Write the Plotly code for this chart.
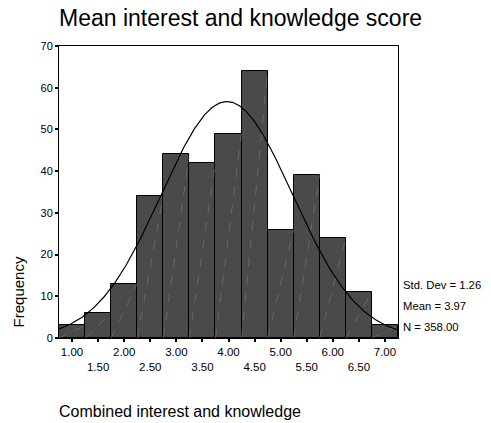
import numpy as np
import plotly.graph_objects as go

# Data
bin_centers = [1.00, 1.50, 2.00, 2.50, 3.00, 3.50, 4.00, 4.50, 5.00, 5.50, 6.00, 6.50, 7.00]
frequencies = [3, 6, 13, 34, 44, 42, 49, 64, 26, 39, 24, 11, 3]
bin_width = 0.5
std_dev = 1.26
mean_val = 3.97
n_total = 358
y_ticks = [0, 10, 20, 30, 40, 50, 60, 70]
x_tick_labels = ["1.00", "1.50", "2.00", "2.50", "3.00", "3.50", "4.00",
                 "4.50", "5.00", "5.50", "6.00", "6.50", "7.00"]

FONT = "Arial, Liberation Sans, sans-serif"

fig = go.Figure()

fig.add_trace(go.Bar(
    x=bin_centers, y=frequencies, width=bin_width,
    marker=dict(color="#4a4a4a", line=dict(color="#000000", width=1)),
    hoverinfo="skip", showlegend=False,
))

# faint diagonal rendering lines inside each bar
dx, dy = [], []
for c, f in zip(bin_centers, frequencies):
    dx += [c - bin_width / 2, c + bin_width / 2, None]
    dy += [0, f, None]
fig.add_trace(go.Scatter(
    x=dx, y=dy, mode="lines",
    line=dict(color="#858585", width=0.5, dash="dash"),
    hoverinfo="skip", showlegend=False,
))

# fitted normal curve
lo = bin_centers[0] - bin_width / 2
hi = bin_centers[-1] + bin_width / 2
xs = np.linspace(lo, hi, 300)
ys = n_total * bin_width / (std_dev * np.sqrt(2 * np.pi)) * np.exp(-0.5 * ((xs - mean_val) / std_dev) ** 2)
fig.add_trace(go.Scatter(
    x=xs, y=ys, mode="lines",
    line=dict(color="#000000", width=1.2),
    hoverinfo="skip", showlegend=False,
))

ticktext = [t if i % 2 == 0 else "<br>" + t for i, t in enumerate(x_tick_labels)]

fig.update_layout(
    width=491, height=423,
    margin=dict(l=59, r=93, t=46, b=85),
    paper_bgcolor="white", plot_bgcolor="white",
    font=dict(family=FONT, size=11, color="#000000"),
    bargap=0,
    xaxis=dict(
        range=[lo, hi], tickvals=bin_centers, ticktext=ticktext,
        showgrid=False, zeroline=False,
        showline=True, linecolor="#000000", linewidth=1, mirror=True,
        ticks="outside", ticklen=3, tickwidth=2, tickcolor="#000000",
        tickfont=dict(family=FONT, size=11.5),
    ),
    yaxis=dict(
        range=[0, 70], tickvals=y_ticks,
        showgrid=False, zeroline=False,
        showline=True, linecolor="#000000", linewidth=1, mirror=True,
        ticks="outside", ticklen=3, tickwidth=2, tickcolor="#000000",
        tickfont=dict(family=FONT, size=11),
    ),
    annotations=[
        dict(text="Mean interest and knowledge score", xref="paper", yref="paper",
             x=0, xshift=-2, y=1.0, yshift=28, xanchor="left", yanchor="middle", showarrow=False,
             font=dict(family=FONT, size=23)),
        dict(text="Frequency", xref="paper", yref="paper", textangle=-90,
             x=0, xshift=-41, y=0.156, xanchor="center", yanchor="middle", showarrow=False,
             font=dict(family=FONT, size=15)),
        dict(text="Combined interest and knowledge", xref="paper", yref="paper",
             x=0, xshift=-2, y=0, yshift=-73, xanchor="left", yanchor="middle", showarrow=False,
             font=dict(family=FONT, size=16)),
        dict(text=f"Std. Dev = {std_dev:.2f}", xref="paper", yref="paper",
             x=1, xshift=3, y=0, yshift=53, xanchor="left", yanchor="middle", showarrow=False,
             font=dict(family=FONT, size=11.3)),
        dict(text=f"Mean = {mean_val:.2f}", xref="paper", yref="paper",
             x=1, xshift=3, y=0, yshift=32, xanchor="left", yanchor="middle", showarrow=False,
             font=dict(family=FONT, size=11.3)),
        dict(text=f"N = {n_total:.2f}", xref="paper", yref="paper",
             x=1, xshift=3, y=0, yshift=11, xanchor="left", yanchor="middle", showarrow=False,
             font=dict(family=FONT, size=11.3)),
    ],
)

fig.write_html("out.html")
